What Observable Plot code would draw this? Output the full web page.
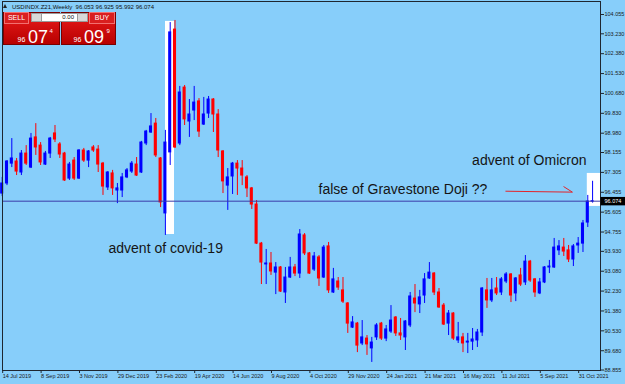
<!DOCTYPE html>
<html><head><meta charset="utf-8">
<script src="https://cdn.jsdelivr.net/npm/d3@7"></script>
<script src="https://cdn.jsdelivr.net/npm/@observablehq/plot@0.6"></script>
<style>
body{margin:0;background:#87CEFA;}
#wrap{position:relative;width:625px;height:384px;overflow:hidden;font-family:"Liberation Sans",Arial,sans-serif;}
#chart svg{display:block;}
.abs{position:absolute;}
#tri{left:3px;top:4px;width:0;height:0;border-left:2.5px solid transparent;border-right:2.5px solid transparent;border-bottom:4px solid #222;}
#hdr{left:12px;top:3.5px;font-size:6px;line-height:6px;color:#111;white-space:pre;}
.blk{top:12px;height:33px;background:linear-gradient(#e81c1c,#b80000);border:1px solid #7a0000;box-sizing:border-box;}
.lab{top:12px;height:12px;background:#d91f1f;border:1px solid #f27070;box-sizing:border-box;color:#fff;font-size:7px;line-height:10px;text-align:center;}
.spin{top:12.5px;height:9px;width:11px;background:#d8d8d8;border:1px solid #9a9a9a;box-sizing:border-box;}
#inp{left:42px;top:12.5px;width:35px;height:9px;background:#fff;border-top:1px solid #9a9a9a;border-bottom:1px solid #9a9a9a;box-sizing:border-box;font-size:6px;line-height:7px;text-align:right;padding-right:3px;color:#111;}
.big{color:#fff;white-space:pre;}
</style></head><body>
<div id="wrap">
<div id="chart"></div>
<div class="abs" id="tri"></div>
<div class="abs" id="hdr">USDINDX.Z21,Weekly  96.053 96.925 95.992 96.074</div>
<div class="abs blk" style="left:3px;width:57px;"></div>
<div class="abs blk" style="left:61px;width:55px;"></div>
<div class="abs lab" style="left:4px;width:25px;">SELL</div>
<div class="abs lab" style="left:89px;width:26px;">BUY</div>
<div class="abs spin" style="left:31px;"></div>
<div class="abs" id="inp">0.00</div>
<div class="abs spin" style="left:77px;"></div>
<div class="abs big" style="left:17.5px;top:35.8px;font-size:7px;line-height:7px;">96</div>
<div class="abs big" style="left:28px;top:27.7px;font-size:18px;line-height:18px;">07</div>
<div class="abs big" style="left:49.5px;top:27.5px;font-size:6px;line-height:6px;">4</div>
<div class="abs big" style="left:73.5px;top:35.8px;font-size:7px;line-height:7px;">96</div>
<div class="abs big" style="left:84px;top:27.7px;font-size:18px;line-height:18px;">09</div>
<div class="abs big" style="left:106.5px;top:27.5px;font-size:6px;line-height:6px;">9</div>
</div>
<script>
// Weekly candles starting week of 14 Jul 2019 (index 0) to week of 21 Nov 2021 (index 123)
const open = [96.40,96.83,97.68,97.77,97.30,98.11,97.51,98.80,98.45,97.64, 98.11,98.97,98.50,98.11,97.04,97.81,97.04,98.24,97.81,98.37, 98.28,97.68,96.66,97.26,96.53,96.53,97.09,97.34,97.64,97.30, 98.54,99.01,99.39,97.90,95.55,98.16,103.41,98.54,100.93,99.48, 99.95,100.34,99.35,99.82,100.42,99.78,98.20,96.74,97.13,97.68, 97.47,97.09,96.62,95.93,94.26,93.37,93.41,93.02,93.24,92.17, 92.81,93.24,92.98,94.61,93.84,93.15,93.67,92.81,94.14,92.17, 92.64,92.26,91.70,90.67,90.84,89.99,90.20,89.78,90.25,90.84, 90.20,90.50,91.10,90.42,90.25,90.76,91.91,91.66,92.04,92.77, 92.98,92.17,91.61,90.84,91.27,90.12,90.25,90.03,90.07,90.12, 90.46,92.26,91.83,92.34,92.17,92.64,92.94,92.13,92.90,92.60, 93.49,92.73,92.13,92.60,93.24,93.24,93.97,94.09,93.97,93.58, 94.18,94.26,95.16,96.053];
const high = [97.09,97.81,98.75,97.90,98.24,98.45,98.97,99.39,98.58,98.20, 98.80,99.31,98.58,98.16,97.73,97.94,98.28,98.33,98.24,98.45, 98.45,97.73,97.34,97.39,96.83,97.26,97.47,97.77,97.94,98.63, 99.10,99.82,99.61,97.94,99.10,103.71,103.80,100.98,101.02,100.42, 100.98,100.46,100.51,100.55,100.46,99.99,98.24,97.47,97.73,97.81, 97.81,97.17,96.66,96.10,94.31,94.01,93.88,93.45,93.28,93.24, 93.67,93.37,94.86,94.69,93.88,93.88,93.75,94.18,94.31,93.20, 92.81,92.81,91.74,91.14,90.89,90.97,90.33,90.25,90.84,90.89, 90.76,91.61,91.14,91.06,90.97,92.17,92.51,92.26,92.98,93.45, 93.02,92.34,91.70,91.40,91.31,90.89,90.42,90.42,90.63,90.59, 92.38,92.77,92.77,92.81,92.81,93.02,92.98,92.81,93.20,93.75, 93.54,92.77,92.77,93.28,93.54,94.48,94.39,94.48,94.18,94.22, 94.52,95.25,96.32,96.925];
const low = [96.27,96.74,97.51,97.17,97.17,97.60,97.47,98.03,97.60,97.60, 97.90,98.58,97.90,96.92,96.96,96.96,97.00,97.73,97.51,98.16, 97.30,96.32,96.53,96.32,95.97,96.23,97.04,97.26,97.13,97.26, 98.45,98.97,97.94,95.80,94.61,97.60,98.33,98.45,99.31,98.80, 99.52,98.80,99.31,99.61,99.01,97.94,96.40,95.68,96.36,96.32, 96.74,96.23,95.72,94.22,92.51,92.51,92.90,92.08,92.17,91.70, 92.77,92.85,92.77,93.75,92.94,93.07,92.43,92.77,92.13,92.13, 92.26,91.70,90.42,90.63,89.60,89.90,89.48,89.18,90.12,90.12, 90.07,90.42,90.29,90.12,89.69,90.67,91.31,91.27,91.70,92.73, 92.04,91.49,90.76,90.33,90.12,89.99,89.60,89.56,89.69,89.82, 90.29,91.49,91.74,92.04,92.04,92.55,91.74,91.78,92.43,92.47, 92.60,91.96,92.08,92.55,92.98,93.20,93.75,93.71,93.45,93.28, 93.84,93.88,94.95,95.992];
const close = [96.83,97.77,97.90,97.34,98.11,97.68,98.75,98.37,97.73,98.11, 98.75,98.71,98.07,96.96,97.64,97.04,98.24,97.81,98.20,98.24, 97.64,96.70,97.30,96.62,96.62,97.09,97.39,97.68,97.17,98.58, 99.05,99.27,98.03,96.02,98.58,103.29,98.37,100.72,99.57,99.78, 100.29,99.05,99.78,100.42,99.78,98.24,96.92,97.09,97.68,97.47, 97.17,96.62,95.93,94.26,93.45,93.41,93.07,93.24,92.21,92.81, 93.24,92.98,94.65,93.84,92.98,93.71,92.77,94.09,92.26,92.73, 92.38,91.78,90.84,90.89,89.90,90.25,89.95,90.03,90.76,90.20, 90.59,90.97,90.42,90.33,90.93,92.00,91.70,91.96,92.73,93.02, 92.17,91.53,90.80,91.27,90.20,90.25,89.99,90.07,90.16,90.46, 92.34,91.83,92.26,92.13,92.73,92.94,92.04,92.77,92.51,93.49, 92.68,92.17,92.60,93.24,93.28,94.09,94.14,93.92,93.58,94.14, 94.26,95.12,96.06,96.074];

const dateLabels = ["14 Jul 2019","8 Sep 2019","3 Nov 2019","29 Dec 2019","23 Feb 2020","19 Apr 2020","14 Jun 2020","9 Aug 2020","4 Oct 2020","29 Nov 2020","24 Jan 2021","21 Mar 2021","16 May 2021","11 Jul 2021","5 Sep 2021","31 Oct 2021"];
const dateWeeks = [0,8,16,24,32,40,48,56,64,72,80,88,96,104,112,120];
const priceTicks = [104.055,103.230,102.380,101.530,100.680,99.830,98.980,98.155,97.305,96.455,95.605,94.755,93.930,93.080,92.230,91.380,90.530,89.680,88.855];
const bidPrice = 96.074;

// annotations (week index, price)
const highlightBoxes = [
  {x1: 34.02, x2: 35.9, y1: 94.65, y2: 103.76},
  {x1: 121.9, x2: 124.65, y1: 95.85, y2: 97.26}
];
const notes = [
  {x: 22.15, y: 93.84, text: "advent of covid-19"},
  {x: 65.9, y: 96.39, text: "false of Gravestone Doji ??"},
  {x: 97.9, y: 97.60, text: "advent of Omicron"}
];
const arrowSegs = [
  {x1: 104.85, y1: 96.50, x2: 118.8, y2: 96.46},
  {x1: 116.95, y1: 96.70, x2: 118.8, y2: 96.46}
];

const candles = open.map((o, i) => ({i, o, h: high[i], l: low[i], c: close[i], col: close[i] >= o ? "#0000ff" : "#ff0000"}));

const chart = Plot.plot({
  width: 625, height: 384,
  marginLeft: 2, marginRight: 25, marginTop: 1, marginBottom: 14,
  style: {background: "#87CEFA", fontFamily: "'Liberation Sans', Arial, sans-serif", color: "#1a1a1a"},
  x: {domain: [0.0625, 124.65], axis: null},
  y: {domain: [88.835, 104.611], axis: null},
  color: {type: "identity"},
  marks: [
    Plot.rect(highlightBoxes, {x1: "x1", x2: "x2", y1: "y1", y2: "y2", fill: "white"}),
    Plot.ruleX(candles, {x: "i", y1: "l", y2: "h", stroke: "col", strokeWidth: 1}),
    Plot.rect(candles, {x1: d => d.i - 0.32, x2: d => d.i + 0.32, y1: "o", y2: "c", fill: "col", insetTop: -0.5, insetBottom: -0.5}),
    Plot.ruleY([bidPrice], {stroke: "#3a3aa8", strokeWidth: 1}),
    Plot.frame({stroke: "#1e2630", strokeWidth: 1}),
    Plot.axisY(priceTicks, {anchor: "right", tickSize: 3, tickPadding: 1, fontSize: 5.5, tickFormat: d => d.toFixed(3), stroke: "#1e2630"}),
    Plot.axisX(dateWeeks, {anchor: "bottom", tickSize: 3, tickPadding: 1, fontSize: 5.5, textAnchor: "start", dx: 0.5, tickFormat: d => dateLabels[dateWeeks.indexOf(d)], stroke: "#1e2630"}),
    Plot.rect([bidPrice], {x1: 124.75, x2: 130, y1: d => d + 0.16, y2: d => d - 0.2, fill: "black"}),
    Plot.text([bidPrice], {x: 124.65, y: d => d, text: d => d.toFixed(3), textAnchor: "start", dx: 4, fill: "white", fontSize: 5.5}),
    Plot.text(notes, {x: "x", y: "y", text: "text", textAnchor: "start", lineAnchor: "bottom", fontSize: 14, fill: "#151515"}),
    Plot.link(arrowSegs, {x1: "x1", y1: "y1", x2: "x2", y2: "y2", stroke: "#e3242b", strokeWidth: 1})
  ]
});
document.getElementById("chart").appendChild(chart);
</script>
</body></html>
